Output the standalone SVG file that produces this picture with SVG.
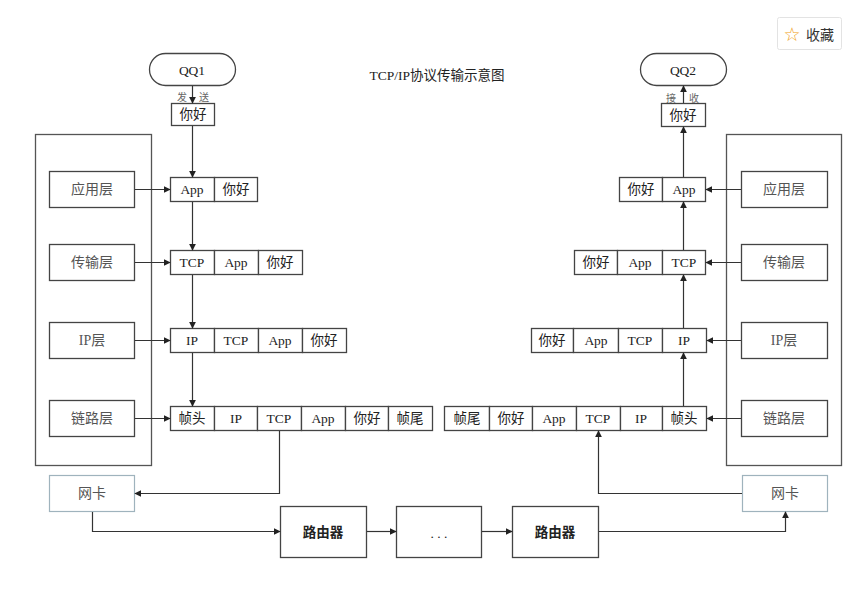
<svg xmlns="http://www.w3.org/2000/svg" width="856" height="589" viewBox="0 0 856 589">
<defs>
<marker id="ah" viewBox="0 0 10 10" refX="9" refY="5" markerWidth="7" markerHeight="7" orient="auto" markerUnits="userSpaceOnUse">
<path d="M0,0 L10,5 L0,10 z" fill="#222"/>
</marker>
<style>
.bx{fill:#fff;stroke:#444;stroke-width:1.3}
.frame{fill:none;stroke:#555;stroke-width:1.3}
.nic{fill:#fff;stroke:#9fb3bd;stroke-width:1.2}
.c{stroke:#333;stroke-width:1.2;fill:none}
.t{font-family:"Liberation Serif","Noto Sans CJK SC",serif;font-size:13.5px;fill:#222;text-anchor:middle;dominant-baseline:central}
.lt{font-family:"Liberation Serif","Noto Sans CJK SC",serif;font-size:14px;fill:#555;text-anchor:middle;dominant-baseline:central}
.sm{font-family:"Noto Sans CJK SC",sans-serif;font-size:10px;fill:#666;text-anchor:middle;dominant-baseline:central}
.b{font-family:"Noto Sans CJK SC",sans-serif;font-size:13.5px;font-weight:600;fill:#222;text-anchor:middle;dominant-baseline:central}
</style>
</defs>
<rect width="856" height="589" fill="#fff"/>

<g id="fav">
<rect x="777.500" y="17.500" width="64" height="32" rx="2" fill="#fff" stroke="#e3e3e3"/>
<text x="792" y="34" style="font-family:'DejaVu Sans',sans-serif;font-size:19px;fill:#f0a020;text-anchor:middle;dominant-baseline:central">☆</text>
<text x="820" y="34" style="font-family:'Noto Sans CJK SC',sans-serif;font-size:14px;fill:#333;text-anchor:middle;dominant-baseline:central">收藏</text>
</g>

<g id="title"><text class="t" x="437" y="75">TCP/IP协议传输示意图</text></g>

<g id="host-left"><rect class="frame" x="35.500" y="134.500" width="116" height="331"/></g>
<g id="host-right"><rect class="frame" x="726.500" y="134.500" width="115" height="331"/></g>

<g id="qq1"><rect class="bx" x="149.500" y="53.500" width="86" height="32" rx="16"/><text class="t" x="192" y="70">QQ1</text></g>
<g id="qq2"><rect class="bx" x="640.500" y="53.500" width="86" height="32" rx="16"/><text class="t" x="683" y="70">QQ2</text></g>

<g id="msg-left"><rect class="bx" x="171.500" y="103.500" width="43" height="22"/><text class="t" x="193" y="114">你好</text></g>
<g id="msg-right"><rect class="bx" x="661.500" y="103.500" width="44" height="23"/><text class="t" x="683" y="115">你好</text></g>

<g id="layer-app-l"><rect class="bx" x="49.500" y="171.500" width="85" height="36"/><text class="lt" x="92" y="189">应用层</text></g>
<g id="layer-tcp-l"><rect class="bx" x="49.500" y="244.500" width="85" height="36"/><text class="lt" x="92" y="262">传输层</text></g>
<g id="layer-ip-l"><rect class="bx" x="49.500" y="322.500" width="85" height="36"/><text class="lt" x="92" y="340">IP层</text></g>
<g id="layer-link-l"><rect class="bx" x="49.500" y="400.500" width="85" height="36"/><text class="lt" x="92" y="418">链路层</text></g>

<g id="layer-app-r"><rect class="bx" x="741.500" y="171.500" width="86" height="36"/><text class="lt" x="784" y="189">应用层</text></g>
<g id="layer-tcp-r"><rect class="bx" x="741.500" y="244.500" width="86" height="36"/><text class="lt" x="784" y="262">传输层</text></g>
<g id="layer-ip-r"><rect class="bx" x="741.500" y="322.500" width="86" height="36"/><text class="lt" x="784" y="340">IP层</text></g>
<g id="layer-link-r"><rect class="bx" x="741.500" y="400.500" width="86" height="36"/><text class="lt" x="784" y="418">链路层</text></g>

<g id="pkt-app-l">
<rect class="bx" x="170.500" y="177.500" width="44" height="24"/><text class="t" x="192" y="189">App</text>
<rect class="bx" x="214.500" y="177.500" width="43" height="24"/><text class="t" x="236" y="189">你好</text>
</g>
<g id="pkt-tcp-l">
<rect class="bx" x="170.500" y="250.500" width="44" height="24"/><text class="t" x="192" y="262">TCP</text>
<rect class="bx" x="214.500" y="250.500" width="44" height="24"/><text class="t" x="236" y="262">App</text>
<rect class="bx" x="258.500" y="250.500" width="44" height="24"/><text class="t" x="280" y="262">你好</text>
</g>
<g id="pkt-ip-l">
<rect class="bx" x="170.500" y="328.500" width="44" height="24"/><text class="t" x="192" y="340">IP</text>
<rect class="bx" x="214.500" y="328.500" width="44" height="24"/><text class="t" x="236" y="340">TCP</text>
<rect class="bx" x="258.500" y="328.500" width="44" height="24"/><text class="t" x="280" y="340">App</text>
<rect class="bx" x="302.500" y="328.500" width="44" height="24"/><text class="t" x="324" y="340">你好</text>
</g>
<g id="pkt-frame-l">
<rect class="bx" x="170.500" y="406.500" width="44" height="24"/><text class="t" x="192" y="418">帧头</text>
<rect class="bx" x="214.500" y="406.500" width="43" height="24"/><text class="t" x="236" y="418">IP</text>
<rect class="bx" x="257.500" y="406.500" width="44" height="24"/><text class="t" x="279" y="418">TCP</text>
<rect class="bx" x="301.500" y="406.500" width="44" height="24"/><text class="t" x="323" y="418">App</text>
<rect class="bx" x="345.500" y="406.500" width="43" height="24"/><text class="t" x="367" y="418">你好</text>
<rect class="bx" x="388.500" y="406.500" width="44" height="24"/><text class="t" x="410" y="418">帧尾</text>
</g>

<g id="pkt-app-r">
<rect class="bx" x="619.500" y="177.500" width="43" height="24"/><text class="t" x="641" y="189">你好</text>
<rect class="bx" x="662.500" y="177.500" width="43" height="24"/><text class="t" x="684" y="189">App</text>
</g>
<g id="pkt-tcp-r">
<rect class="bx" x="574.500" y="250.500" width="43" height="24"/><text class="t" x="596" y="262">你好</text>
<rect class="bx" x="617.500" y="250.500" width="45" height="24"/><text class="t" x="640" y="262">App</text>
<rect class="bx" x="662.500" y="250.500" width="43" height="24"/><text class="t" x="684" y="262">TCP</text>
</g>
<g id="pkt-ip-r">
<rect class="bx" x="531.500" y="328.500" width="42" height="24"/><text class="t" x="552" y="340">你好</text>
<rect class="bx" x="573.500" y="328.500" width="45" height="24"/><text class="t" x="596" y="340">App</text>
<rect class="bx" x="618.500" y="328.500" width="44" height="24"/><text class="t" x="640" y="340">TCP</text>
<rect class="bx" x="662.500" y="328.500" width="44" height="24"/><text class="t" x="684" y="340">IP</text>
</g>
<g id="pkt-frame-r">
<rect class="bx" x="444.500" y="406.500" width="45" height="24"/><text class="t" x="467" y="418">帧尾</text>
<rect class="bx" x="489.500" y="406.500" width="43" height="24"/><text class="t" x="511" y="418">你好</text>
<rect class="bx" x="532.500" y="406.500" width="44" height="24"/><text class="t" x="554" y="418">App</text>
<rect class="bx" x="576.500" y="406.500" width="44" height="24"/><text class="t" x="598" y="418">TCP</text>
<rect class="bx" x="620.500" y="406.500" width="42" height="24"/><text class="t" x="641" y="418">IP</text>
<rect class="bx" x="662.500" y="406.500" width="44" height="24"/><text class="t" x="684" y="418">帧头</text>
</g>

<g id="nic-left"><rect class="nic" x="49.500" y="475.500" width="85" height="36"/><text class="lt" x="92" y="493">网卡</text></g>
<g id="nic-right"><rect class="nic" x="742.500" y="475.500" width="85" height="36"/><text class="lt" x="785" y="493">网卡</text></g>

<g id="router1"><rect class="bx" x="280.500" y="506.500" width="86" height="51"/><text class="b" x="323" y="531">路由器</text></g>
<g id="dots"><rect class="bx" x="396.500" y="506.500" width="85" height="51"/><text class="t" x="439" y="533">. . .</text></g>
<g id="router2"><rect class="bx" x="512.500" y="506.500" width="86" height="51"/><text class="b" x="555" y="531">路由器</text></g>

<g id="labels">
<text class="sm" x="182" y="96">发</text><text class="sm" x="204" y="96">送</text>
<text class="sm" x="671" y="97">接</text><text class="sm" x="694" y="97">收</text>
</g>

<g id="connectors">
<line class="c" x1="192.500" y1="86" x2="192.500" y2="103" marker-end="url(#ah)"/>
<line class="c" x1="192.500" y1="126" x2="192.500" y2="177" marker-end="url(#ah)"/>
<line class="c" x1="192.500" y1="202" x2="192.500" y2="250" marker-end="url(#ah)"/>
<line class="c" x1="192.500" y1="275" x2="192.500" y2="328" marker-end="url(#ah)"/>
<line class="c" x1="192.500" y1="353" x2="192.500" y2="406" marker-end="url(#ah)"/>

<line class="c" x1="683.500" y1="406" x2="683.500" y2="353" marker-end="url(#ah)"/>
<line class="c" x1="683.500" y1="328" x2="683.500" y2="275" marker-end="url(#ah)"/>
<line class="c" x1="683.500" y1="250" x2="683.500" y2="202" marker-end="url(#ah)"/>
<line class="c" x1="683.500" y1="177" x2="683.500" y2="127" marker-end="url(#ah)"/>
<line class="c" x1="683.500" y1="103" x2="683.500" y2="86" marker-end="url(#ah)"/>

<line class="c" x1="135" y1="189.500" x2="170" y2="189.500" marker-end="url(#ah)"/>
<line class="c" x1="135" y1="262.500" x2="170" y2="262.500" marker-end="url(#ah)"/>
<line class="c" x1="135" y1="340.500" x2="170" y2="340.500" marker-end="url(#ah)"/>
<line class="c" x1="135" y1="418.500" x2="170" y2="418.500" marker-end="url(#ah)"/>

<line class="c" x1="741" y1="189.500" x2="706" y2="189.500" marker-end="url(#ah)"/>
<line class="c" x1="741" y1="262.500" x2="706" y2="262.500" marker-end="url(#ah)"/>
<line class="c" x1="741" y1="340.500" x2="707" y2="340.500" marker-end="url(#ah)"/>
<line class="c" x1="741" y1="418.500" x2="707" y2="418.500" marker-end="url(#ah)"/>

<polyline class="c" points="279.500,431 279.500,493.500 135,493.500" marker-end="url(#ah)"/>
<polyline class="c" points="92.500,512 92.500,531.500 280,531.500" marker-end="url(#ah)"/>
<line class="c" x1="367" y1="531.500" x2="396" y2="531.500" marker-end="url(#ah)"/>
<line class="c" x1="482" y1="531.500" x2="512" y2="531.500" marker-end="url(#ah)"/>
<polyline class="c" points="599,531.500 785.500,531.500 785.500,512" marker-end="url(#ah)"/>
<polyline class="c" points="742,493.500 598.500,493.500 598.500,431" marker-end="url(#ah)"/>
</g>
</svg>
